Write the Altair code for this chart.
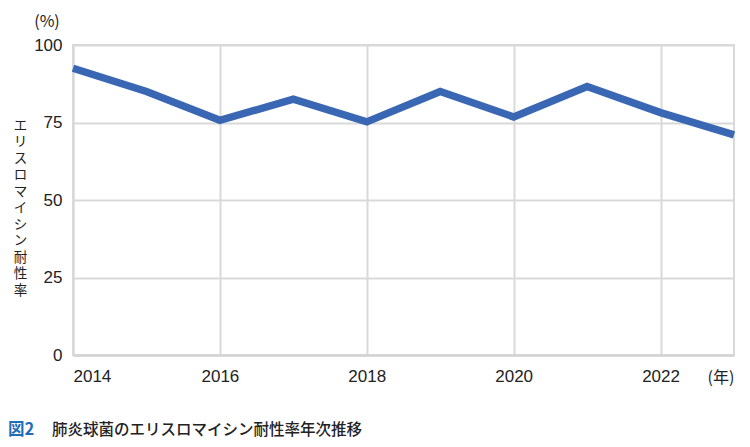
import altair as alt
import pandas as pd

years = [2014, 2015, 2016, 2017, 2018, 2019, 2020, 2021, 2022, 2023]
rates = [92.5, 85.0, 75.7, 82.5, 75.2, 85.0, 76.8, 86.6, 78.2, 71.0]
x_ticks = [2014, 2016, 2018, 2020, 2022]
y_ticks = [0, 25, 50, 75, 100]
y_title = list("エリスロマイシン耐性率")
fig_label = "図2"
caption = "肺炎球菌のエリスロマイシン耐性率年次推移"
y_unit = "(%)"
x_unit = "(年)"

df = pd.DataFrame({"year": years, "rate": rates})
one = pd.DataFrame({"k": [0]})

JP = "Noto Sans CJK JP"
NUM = "Liberation Sans"
W, H = 661, 310

line = alt.Chart(df).mark_line(color="#3a67b4", strokeWidth=7.5, strokeCap="butt", strokeJoin="miter").encode(
    x=alt.X(
        "year:Q",
        scale=alt.Scale(domain=[2014, 2023], nice=False, zero=False),
        axis=alt.Axis(
            values=x_ticks, format="d", title=None, grid=True,
            gridColor="#d9d9d9", gridWidth=2,
            domainColor="#d4d4d4", domainWidth=2.5,
            ticks=False, labelPadding=13, labelFontSize=17,
            labelColor="#222222", labelFont=NUM, labelFontWeight="normal",
        ),
    ),
    y=alt.Y(
        "rate:Q",
        scale=alt.Scale(domain=[0, 100], nice=False),
        axis=alt.Axis(
            values=y_ticks, title=y_title, titleAngle=0,
            titleX=-53, titleY=80, titleAlign="center", titleBaseline="middle",
            titleLineHeight=16.5, titleFontSize=13.5, titleFontWeight="normal",
            titleColor="#222222", titleFont=JP,
            grid=True, gridColor="#d9d9d9", gridWidth=2,
            domainColor="#d9d9d9", domainWidth=2,
            ticks=False, labelPadding=11, labelFontSize=17,
            labelColor="#222222", labelFont=NUM, labelFontWeight="normal",
        ),
    ),
)

ann = alt.Chart(one)
pct = ann.mark_text(text=y_unit, fontSize=16, font=JP, fontWeight="normal", color="#222222", align="center", baseline="middle").encode(
    x=alt.value(-26), y=alt.value(-23)
)
nen = ann.mark_text(text=x_unit, fontSize=16, font=JP, fontWeight="normal", color="#222222", align="center", baseline="middle").encode(
    x=alt.value(648), y=alt.value(23 + H)
)
fig = ann.mark_text(text=fig_label, fontSize=16.5, font=JP, fontWeight="bold", color="#1f6db6", align="left", baseline="middle").encode(
    x=alt.value(-65), y=alt.value(75 + H)
)
cap = ann.mark_text(text=caption, fontSize=15.5, font=JP, fontWeight=500, color="#222222", align="left", baseline="middle").encode(
    x=alt.value(-21), y=alt.value(75 + H)
)

chart = alt.layer(line, pct, nen, fig, cap).properties(
    width=W, height=H,
    autosize=alt.AutoSizeParams(type="none"),
    padding={"left": 65, "top": 37, "right": 8, "bottom": 85},
    background="white",
).configure_view(stroke="#d9d9d9", strokeWidth=2)

chart.save("out.html", embed_options={"renderer": "svg", "actions": False})
